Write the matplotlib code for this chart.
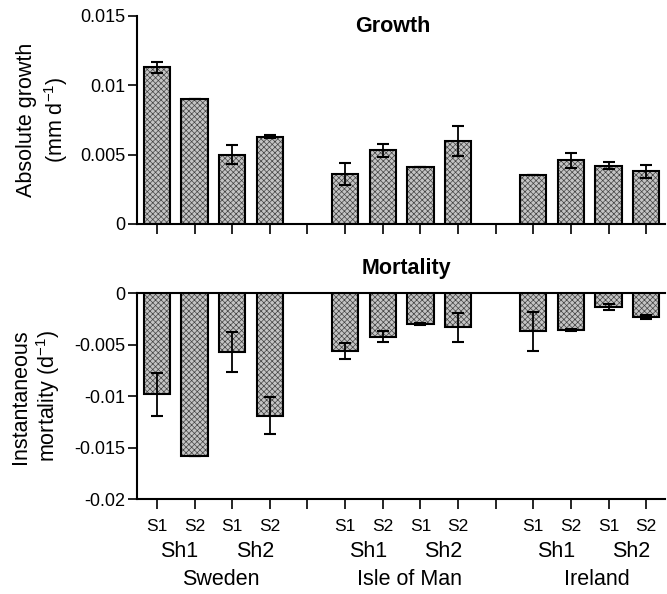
import matplotlib.pyplot as plt
import numpy as np

plt.rc('font', family='Liberation Sans', size=12)

# bar positions: 4 bars per site, a blank tick between sites
pos = [0, 1, 2, 3, 5, 6, 7, 8, 10, 11, 12, 13]
site_names = ['Sweden', 'Isle of Man', 'Ireland']
shore_labels = ['Sh1', 'Sh2']
season_labels = ['S1', 'S2']

growth = [0.0113, 0.0090, 0.0050, 0.0063,
          0.0036, 0.0053, 0.0041, 0.0060,
          0.0035, 0.0046, 0.0042, 0.0038]
growth_err = [0.0004, 0.0, 0.0007, 0.0001,
              0.0008, 0.00045, 0.0, 0.0011,
              0.0, 0.00055, 0.00027, 0.00045]

mortality = [-0.0098, -0.0158, -0.0057, -0.0119,
             -0.0056, -0.0042, -0.0030, -0.0033,
             -0.0037, -0.0036, -0.0013, -0.0023]
mortality_err = [0.0021, 0.0, 0.0019, 0.0018,
                 0.0008, 0.0005, 0.0001, 0.0014,
                 0.0019, 0.0001, 0.0003, 0.00015]

plt.rcParams['hatch.linewidth'] = 0.5

fig = plt.figure(figsize=(6.67, 5.94), dpi=100)
ax1 = fig.add_axes([0.2054, 0.6229, 0.7916, 0.3502])
ax2 = fig.add_axes([0.2054, 0.1594, 0.7916, 0.3468])


def draw_bars(ax, vals, errs):
    ax.bar(pos, vals, width=0.7, color='#c4c4c4', hatch='xxxxxx',
           edgecolor='#444444', linewidth=0, zorder=2)
    ax.bar(pos, vals, width=0.7, fill=False, edgecolor='black',
           linewidth=1.5, zorder=3)
    ax.errorbar(pos, vals, yerr=errs, fmt='none', ecolor='black',
                elinewidth=1.3, capsize=4, capthick=1.5, zorder=4)
    ax.set_xlim(-0.53, 13.5)
    ax.set_xticks(range(14))
    ax.set_xticklabels([])
    ax.spines['right'].set_visible(False)
    ax.tick_params(axis='x', direction='out', length=7, width=1.2)
    ax.tick_params(axis='y', direction='out', length=6.5, width=1.2,
                   labelsize=13, pad=2)
    for s in ['left', 'bottom', 'top']:
        ax.spines[s].set_linewidth(1.5)


draw_bars(ax1, growth, growth_err)
ax1.set_ylim(0, 0.015)
ax1.set_yticks([0, 0.005, 0.01, 0.015])
ax1.set_yticklabels(['0', '0.005', '0.01', '0.015'])
ax1.spines['top'].set_visible(False)
ax1.set_ylabel('Absolute growth\n(mm d$^{\\mathregular{-1}}$)', fontsize=15.5,
               linespacing=1.25, labelpad=7)
ax1.text(0.485, 0.95, 'Growth', transform=ax1.transAxes, fontsize=15.5,
         fontweight='bold', ha='center', va='center')

draw_bars(ax2, mortality, mortality_err)
ax2.set_ylim(-0.02, 0)
ax2.set_yticks([-0.02, -0.015, -0.01, -0.005, 0])
ax2.set_yticklabels(['-0.02', '-0.015', '-0.01', '-0.005', '0'])
ax2.set_ylabel('Instantaneous\nmortality (d$^{\\mathregular{-1}}$)', fontsize=15.5,
               linespacing=1.15, labelpad=9)
fig.text(0.61, 0.548, 'Mortality', fontsize=15.5, fontweight='bold',
         ha='center', va='center')

# category labels under the lower axis
trans = ax2.get_xaxis_transform()
for i, p in enumerate(pos):
    ax2.text(p, -0.134, season_labels[i % 2], transform=trans,
             ha='center', va='center', fontsize=12.5)
for k in range(3):
    base = 5 * k
    for j in range(2):
        ax2.text(base + 2 * j + 0.6, -0.255, shore_labels[j], transform=trans,
                 ha='center', va='center', fontsize=15.5)
    ax2.text(base + 1.7, -0.39, site_names[k], transform=trans,
             ha='center', va='center', fontsize=15.5)

plt.savefig('out.png', dpi=100)
